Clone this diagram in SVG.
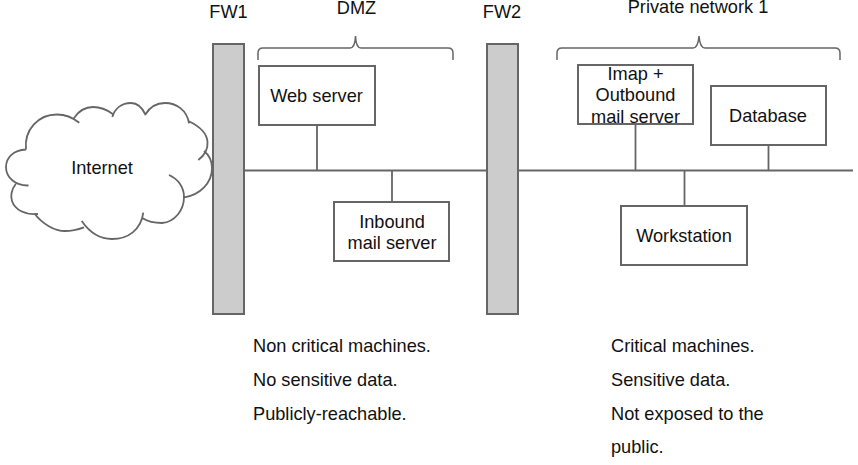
<svg xmlns="http://www.w3.org/2000/svg" width="858" height="465" viewBox="0 0 858 465">
<style>
text{font-family:"Liberation Sans",Arial,sans-serif;font-size:18.200px;fill:#111;text-anchor:middle}
text.l{text-anchor:start}
.box{fill:#fff;stroke:#666;stroke-width:2}
.fw{fill:#ccc;stroke:#666;stroke-width:2}
.ln{fill:none;stroke:#666;stroke-width:1.800}
.br{fill:none;stroke:#666;stroke-width:1.500}
</style>
<rect width="858" height="465" fill="#fff"/>
<g id="connectors">
<path class="ln" d="M244 170.500H487M518 170.500H853M317 125V170M392 171V202M635.500 124V170M768.500 146V170M684.500 171V206"/>
</g>
<g id="internet">
<path class="ln" d="M26 149.500C13 150 6 158 6 167C6 178 16 186 28.500 185.500M15.700 184C11 190 10.500 197 12 201C15 210 25 215 38 214M34.300 213.300C42 224 55 231 65 231C72 231 78 229.500 84 227.300M81.700 221C90 233 101 239 112 239C128 239 141 230 143.300 212.700M142.700 218.300C150 223 157 223 162 223C175 222 184 210 184 197C184 187 178 179 169 175M184.300 197.300C200 195 212 183 212 168C212 161 209 155 204 151M198.300 160C205 155 208 148 207.500 142C207 133 199 126 188.300 121M189 123.300C187 110 176 103 165 103C156 103 149 108 145 115M145.700 115C142 107 137 103 131 103C122 103 115 108 112.300 117M112.700 114C106 109 100 107 93 107C85 107 78 112 74 118M79.300 122.700C72 117 65 114.500 57 114.500C38 114.500 24 130 26 149.500"/>
<text x="102" y="174">Internet</text>
</g>
<g id="fw1"><rect class="fw" x="213" y="44" width="31" height="270"/><text x="228.500" y="18">FW1</text></g>
<g id="fw2"><rect class="fw" x="487" y="44" width="31" height="270"/><text x="502" y="18">FW2</text></g>
<g id="dmz">
<path class="br" d="M258 60V53Q258 48 263 48H350Q355 48 355.500 36Q356 48 361 48H448Q453 48 453 53V60"/>
<text x="356.500" y="14">DMZ</text>
</g>
<g id="private-network">
<path class="br" d="M557 60V53Q557 48 562 48H693Q698 48 699 36Q700 48 705 48H835Q840 48 840 53V60"/>
<text x="698" y="13">Private network 1</text>
</g>
<g id="web-server"><rect class="box" x="259" y="66" width="116" height="59"/><text x="316.500" y="102">Web server</text></g>
<g id="inbound-mail"><rect class="box" x="334" y="202" width="115" height="59"/><text x="392" y="228">Inbound</text><text x="392" y="249">mail server</text></g>
<g id="imap"><rect class="box" x="578" y="65" width="115" height="59"/><text x="635.500" y="80">Imap +</text><text x="635.500" y="101">Outbound</text><text x="635.500" y="123">mail server</text></g>
<g id="database"><rect class="box" x="711" y="86" width="115" height="59"/><text x="768" y="122">Database</text></g>
<g id="workstation"><rect class="box" x="621" y="206" width="126" height="59"/><text x="684" y="242">Workstation</text></g>
<g id="notes-left">
<text class="l" x="253" y="352">Non critical machines.</text>
<text class="l" x="253" y="386">No sensitive data.</text>
<text class="l" x="253" y="420">Publicly-reachable.</text>
</g>
<g id="notes-right">
<text class="l" x="611" y="352">Critical machines.</text>
<text class="l" x="611" y="386">Sensitive data.</text>
<text class="l" x="611" y="420">Not exposed to the</text>
<text class="l" x="611" y="453">public.</text>
</g>
</svg>
